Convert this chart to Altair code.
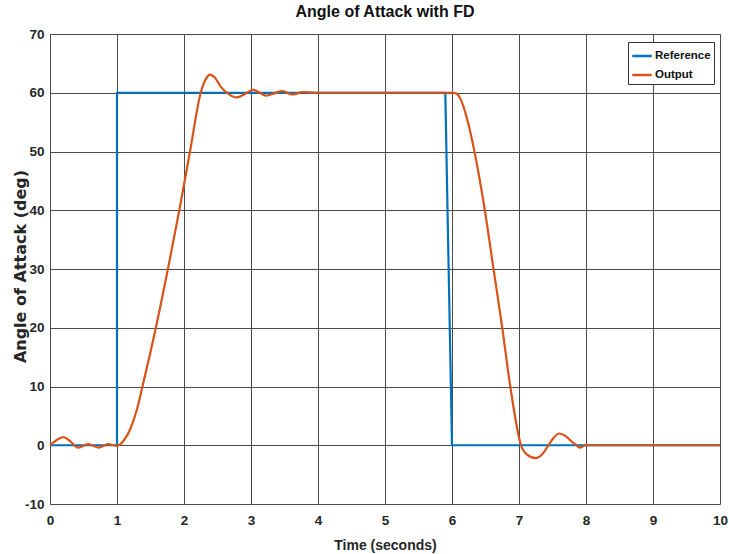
import altair as alt
import pandas as pd

# Reference signal
ref_t = [0.0, 1.0, 1.0, 5.9, 6.0, 10.0]
ref_v = [0.0, 0.0, 60.0, 60.0, 0.0, 0.0]

# Output signal
out_t = [0.0, 0.1, 0.2, 0.3, 0.42, 0.5, 0.57, 0.65, 0.72, 0.8, 0.87, 0.95, 1.0,
         1.1, 1.2, 1.3, 1.38, 1.58, 1.76, 1.93, 2.09, 2.25, 2.32, 2.39, 2.46, 2.55, 2.64,
         2.79, 2.91, 3.03, 3.13, 3.23, 3.35, 3.47, 3.61, 3.78, 3.95, 4.5, 5.0, 5.5, 6.0,
         6.06, 6.12, 6.24, 6.335, 6.49, 6.62, 6.75, 6.87, 7.03, 7.12, 7.25, 7.35, 7.44,
         7.52, 7.6, 7.7, 7.8, 7.86, 7.9, 8.0, 9.0, 10.0]
out_v = [0.0, 0.9, 1.4, 0.7, -0.4, -0.1, 0.2, -0.1, -0.4, -0.1, 0.2, 0.0, -0.1,
         0.8, 2.8, 6.2, 10.0, 20.0, 30.0, 40.0, 50.0, 60.0, 62.2, 63.1, 62.6, 61.0, 60.0,
         59.2, 59.8, 60.5, 60.0, 59.5, 59.9, 60.3, 59.7, 60.1, 60.0, 60.0, 60.0, 60.0, 60.0,
         59.9, 59.1, 54.9, 50.0, 40.0, 30.0, 20.0, 10.0, 0.0, -1.6, -2.2, -1.5, 0.0,
         1.3, 2.0, 1.5, 0.5, 0.0, -0.4, 0.0, 0.0, 0.0]

series_names = ["Reference", "Output"]
series_colors = ["#0072BD", "#D95319"]

df = pd.concat([
    pd.DataFrame({"t": ref_t, "v": ref_v, "series": "Reference", "order": range(len(ref_t))}),
    pd.DataFrame({"t": out_t, "v": out_v, "series": "Output", "order": range(len(out_t))}),
])

FONT = "Liberation Sans, Arial, sans-serif"
WIDE = "DejaVu Sans, Verdana, sans-serif"
TXT = "#262626"

x_enc = alt.X(
    "t:Q",
    scale=alt.Scale(domain=[0, 10], nice=False, zero=False),
    axis=alt.Axis(
        title="Time (seconds)", values=list(range(0, 11)), labelExpr="'' + datum.value",
        ticks=False, labelPadding=9, labelFont=FONT, labelFontSize=13.5,
        labelFontWeight="bold", labelColor=TXT,
        titleFont=FONT, titleFontSize=14, titleFontWeight="bold", titleColor=TXT,
        titleY=41, titleBaseline="middle",
        grid=True, gridColor="#4a4a4a", gridWidth=1, domain=False,
        labelFlush=False,
    ),
)
y_enc = alt.Y(
    "v:Q",
    scale=alt.Scale(domain=[-10, 70], nice=False, zero=False),
    axis=alt.Axis(
        title="Angle of Attack (deg)", values=list(range(-10, 71, 10)),
        labelExpr="'' + datum.value",
        ticks=False, labelPadding=6, labelFont=FONT, labelFontSize=13.5,
        labelFontWeight="bold", labelColor=TXT,
        titleFont=WIDE, titleFontSize=16, titleFontWeight="bold", titleColor=TXT,
        titleX=-30, titleY=232, titleBaseline="middle", titleAlign="center",
        grid=True, gridColor="#4a4a4a", gridWidth=1, domain=False,
        labelFlush=False,
    ),
)
color_enc = alt.Color(
    "series:N",
    scale=alt.Scale(domain=series_names, range=series_colors),
    legend=alt.Legend(
        title=None, orient="none", legendX=578, legendY=8,
        symbolType="stroke", symbolSize=380, symbolStrokeWidth=2.5,
        labelFont=FONT, labelFontSize=11.5, labelFontWeight="bold", labelColor="#111",
        strokeColor="#333", fillColor="white", padding=3, rowPadding=2,
        labelOffset=2, cornerRadius=0,
    ),
)

ref_line = alt.Chart(df[df.series == "Reference"]).mark_line(
    strokeWidth=2.2, interpolate="linear"
).encode(x=x_enc, y=y_enc, color=color_enc, order="order:Q")

out_line = alt.Chart(df[df.series == "Output"]).mark_line(
    strokeWidth=2.2, interpolate="monotone"
).encode(x=x_enc, y=y_enc, color=color_enc, order="order:Q")

chart = alt.layer(ref_line, out_line).properties(
    width=670, height=470,
    title=alt.TitleParams("Angle of Attack with FD", font=FONT, fontSize=16,
                          fontWeight="bold", color="#111", anchor="middle", offset=7),
    autosize=alt.AutoSizeParams(type="none"),
    padding={"left": 50, "top": 34, "right": 9, "bottom": 50},
).configure_view(
    stroke="#3a3a3a", strokeWidth=1,
).configure(background="white")

chart.save("out.html", embed_options={"renderer": "svg", "actions": False})
